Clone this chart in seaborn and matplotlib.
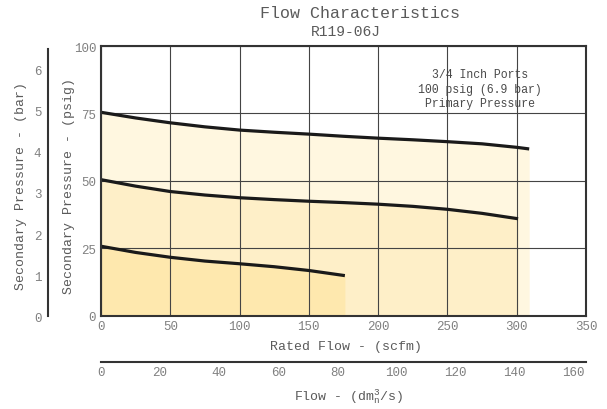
import matplotlib
matplotlib.use("Agg")
import matplotlib.pyplot as plt
import seaborn as sns
import pandas as pd

# ---- data ----
top_x = [0, 25, 50, 75, 100, 125, 150, 175, 200, 225, 250, 275, 300, 309]
top_y = [75.4, 73.3, 71.5, 70.0, 68.8, 68.0, 67.3, 66.5, 65.8, 65.2, 64.5, 63.7, 62.4, 61.8]
mid_x = [0, 25, 50, 75, 100, 125, 150, 175, 200, 225, 250, 275, 301]
mid_y = [50.4, 48.0, 46.0, 44.7, 43.7, 43.0, 42.4, 41.9, 41.3, 40.5, 39.4, 37.9, 35.9]
low_x = [0, 25, 50, 75, 100, 125, 150, 176]
low_y = [25.7, 23.4, 21.6, 20.2, 19.2, 18.1, 16.7, 14.8]

scfm_ticks = [0, 50, 100, 150, 200, 250, 300, 350]
psig_ticks = [0, 25, 50, 75, 100]
bar_ticks = [0, 1, 2, 3, 4, 5, 6]
dm3_ticks = [0, 20, 40, 60, 80, 100, 120, 140, 160]
fill_colors = ["#FFF7E0", "#FEEFC8", "#FEE8AE"]

annot_lines = ["3/4 Inch Ports", "100 psig (6.9 bar)", "Primary Pressure"]

sns.set_style("white")
plt.rcParams["font.family"] = ["Liberation Mono", "DejaVu Sans"]
plt.rcParams["mathtext.fontset"] = "custom"
plt.rcParams["mathtext.rm"] = "Liberation Mono"
plt.rcParams["mathtext.it"] = "Liberation Mono"

W, H = 607, 410
fig = plt.figure(figsize=(W / 100, H / 100), dpi=100)

def fx(px):
    return px / W

def fy(py):
    return 1 - py / H

tick_col = "#808080"
lab_col = "#5a5a5a"
spine_col = "#333333"

# ---- main axes ----
ax = fig.add_axes([fx(101), fy(316.5), (586 - 101) / W, (316.5 - 47) / H])
curves = [(top_x, top_y), (mid_x, mid_y), (low_x, low_y)]
for (cx, cy), col in zip(curves, fill_colors):
    ax.fill_between(cx, 0, cy, color=col, linewidth=0, zorder=1)
for cx, cy in curves:
    df = pd.DataFrame({"x": cx, "y": cy})
    sns.lineplot(data=df, x="x", y="y", ax=ax, color="#1a1a1a", linewidth=2.3,
                 zorder=4, solid_capstyle="butt")
ax.set_xlim(0, 350)
ax.set_ylim(0, 100)
ax.set_xticks(scfm_ticks)
ax.set_yticks(psig_ticks)
ax.set_axisbelow(False)
ax.grid(True, color="#444444", linewidth=0.8, zorder=2.5)
ax.set_xlabel("")
ax.set_ylabel("")
for s in ax.spines.values():
    s.set_color(spine_col)
    s.set_linewidth(1.5)
    s.set_zorder(5)
ax.tick_params(axis="both", direction="out", length=2, width=0.8, color=spine_col,
               labelsize=9, labelcolor=tick_col, pad=1.5)

for i, t in enumerate(annot_lines):
    fig.text(fx(480), fy(75 + i * 14.7), t, ha="center", va="center",
             fontsize=8.3, color="#4a4a4a")

# ---- bar axis (left) ----
axb = fig.add_axes([fx(48.3), fy(317.3), 0.0001, (317.3 - 50) / H])
axb.set_ylim(0, 6.5)
axb.set_yticks(bar_ticks)
axb.set_xticks([])
for k in ["top", "right", "bottom"]:
    axb.spines[k].set_visible(False)
axb.spines["left"].set_color(spine_col)
axb.spines["left"].set_linewidth(1.5)
axb.patch.set_alpha(0)
axb.tick_params(axis="y", direction="out", length=3, width=0.8, color=spine_col,
                labelsize=9, labelcolor=tick_col, pad=2)

# ---- dm3/s axis (bottom) ----
axd = fig.add_axes([fx(101), fy(362.7), (586 - 101) / W, 0.0001])
axd.set_xlim(0, 164.2)
axd.set_xticks(dm3_ticks)
axd.set_yticks([])
for k in ["top", "right", "left"]:
    axd.spines[k].set_visible(False)
axd.spines["bottom"].set_color(spine_col)
axd.spines["bottom"].set_linewidth(1.5)
axd.patch.set_alpha(0)
axd.tick_params(axis="x", direction="in", length=3, width=0.8, color=spine_col,
                labelsize=9, labelcolor=tick_col, pad=3)

# ---- labels ----
fig.text(fx(360.5), fy(14), "Flow Characteristics", ha="center", va="center",
         fontsize=12, color=lab_col)
fig.text(fx(345.5), fy(32), "R119-06J", ha="center", va="center",
         fontsize=10.5, color=lab_col)
fig.text(fx(69), fy(186), "Secondary Pressure - (psig)", rotation=90,
         ha="center", va="center", fontsize=9.5, color=lab_col)
fig.text(fx(21), fy(186.5), "Secondary Pressure - (bar)", rotation=90,
         ha="center", va="center", fontsize=9.5, color=lab_col)
fig.text(fx(346), fy(347), "Rated Flow - (scfm)", ha="center", va="center",
         fontsize=9.5, color=lab_col)
fig.text(fx(349), fy(397), r"Flow - (dm$_{\mathrm{n}}^{\mathrm{3}}$/s)", ha="center",
         va="center", fontsize=9.5, color=lab_col)

fig.savefig("out.png", dpi=100)
